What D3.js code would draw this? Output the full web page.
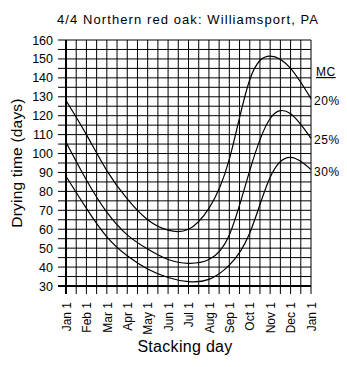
<!DOCTYPE html>
<html>
<head>
<meta charset="utf-8">
<script src="https://cdn.jsdelivr.net/npm/d3@7/dist/d3.min.js"></script>
<style>
  html, body { margin: 0; padding: 0; background: #fff; }
  svg { display: block; font-family: "Liberation Sans", Arial, sans-serif; }
</style>
</head>
<body>
<svg id="chart" width="347" height="367"></svg>
<script>
// Stacking day ticks (month index 0..12, first of each month)
const monthLabels = ["Jan 1","Feb 1","Mar 1","Apr 1","May 1","Jun 1","Jul 1","Aug 1","Sep 1","Oct 1","Nov 1","Dec 1","Jan 1"];
const yTicks = [30,40,50,60,70,80,90,100,110,120,130,140,150,160];

// Drying time (days) by stacking month, one array per final moisture content
const mc20 = [128, 110, 91, 76, 65, 59.5, 60, 71, 97, 139, 151.5, 145, 129];
const mc25 = [106, 86, 69, 57, 49.5, 44, 42, 44, 57, 91, 118.5, 121, 108];
const mc30 = [88, 71, 56, 46, 39, 34.5, 32.3, 33.5, 41, 58, 87.5, 98, 91.5];
const seriesNames = ["20%", "25%", "30%"];
const seriesValues = [mc20, mc25, mc30];

const svg = d3.select("#chart");
const plotLeft = 66, plotRight = 311, plotTop = 40, plotBottom = 286;

const x = d3.scaleLinear().domain([0, 12]).range([plotLeft, plotRight]);
const y = d3.scaleLinear().domain([30, 160]).range([plotBottom, plotTop]);

// Fine grid: half-month verticals, 5-day horizontals
const g = svg.append("g");
const halfMonths = d3.range(0, 12.01, 0.5);
const fiveDays = d3.range(30, 160.01, 5);

g.selectAll("line.v").data(halfMonths).join("line")
  .attr("class", "v")
  .attr("x1", d => x(d)).attr("x2", d => x(d))
  .attr("y1", plotTop).attr("y2", plotBottom + 8)
  .attr("stroke", "#000").attr("stroke-width", 1);

g.selectAll("line.h").data(fiveDays).join("line")
  .attr("class", "h")
  .attr("x1", plotLeft - 8).attr("x2", plotRight)
  .attr("y1", d => y(d)).attr("y2", d => y(d))
  .attr("stroke", "#000").attr("stroke-width", 1);

// Heavier left and bottom axis lines
g.append("line").attr("x1", plotLeft).attr("x2", plotLeft).attr("y1", plotTop).attr("y2", plotBottom + 8)
  .attr("stroke", "#000").attr("stroke-width", 2);
g.append("line").attr("x1", plotLeft - 8).attr("x2", plotRight).attr("y1", plotBottom).attr("y2", plotBottom)
  .attr("stroke", "#000").attr("stroke-width", 2);

// Y axis labels
const yAxis = d3.axisLeft(y).tickValues(yTicks).tickSize(0).tickPadding(0);
svg.append("g").attr("transform", `translate(${plotLeft - 13},0)`).call(yAxis)
  .call(s => s.select(".domain").remove())
  .selectAll("text")
  .attr("font-size", 12.5).attr("font-family", "Liberation Sans, Arial, sans-serif")
  .attr("fill", "#000");

// X axis labels, rotated
const xAxis = d3.axisBottom(x).tickValues(d3.range(0, 13)).tickFormat(i => monthLabels[i]).tickSize(0);
svg.append("g").attr("transform", `translate(0,${plotBottom})`).call(xAxis)
  .call(s => s.select(".domain").remove())
  .selectAll("text")
  .attr("font-size", 12).attr("font-family", "Liberation Sans, Arial, sans-serif")
  .attr("fill", "#000")
  .attr("text-anchor", "end")
  .attr("dy", "0.35em").attr("dx", 0)
  .attr("y", 0)
  .attr("transform", "translate(0,16) rotate(-90)");

// Curves
const line = d3.line().x((d, i) => x(i)).y(d => y(d)).curve(d3.curveNatural);
svg.append("g").selectAll("path").data(seriesValues).join("path")
  .attr("d", line).attr("fill", "none").attr("stroke", "#000").attr("stroke-width", 1.2);

// Moisture content labels at the right end of each curve
svg.append("text").attr("x", 316).attr("y", 76).attr("font-size", 12)
  .attr("text-decoration", "underline").attr("letter-spacing", 0.5).text("MC");
svg.selectAll("text.mc").data(seriesValues).join("text")
  .attr("class", "mc")
  .attr("x", 314).attr("y", d => y(d[12]) + 6)
  .attr("font-size", 12).attr("letter-spacing", 0.6)
  .text((d, i) => seriesNames[i]);

// Title and axis titles
svg.append("text").attr("x", 57).attr("y", 24).attr("font-size", 13)
  .attr("textLength", 261).attr("lengthAdjust", "spacing")
  .text("4/4 Northern red oak: Williamsport, PA");
svg.append("text").attr("x", 185).attr("y", 352).attr("font-size", 16)
  .attr("text-anchor", "middle").attr("letter-spacing", 0.3).text("Stacking day");
svg.append("text").attr("transform", "translate(22,163) rotate(-90)")
  .attr("font-size", 15.5).attr("text-anchor", "middle").attr("letter-spacing", 0.2)
  .text("Drying time (days)");
</script>
</body>
</html>
